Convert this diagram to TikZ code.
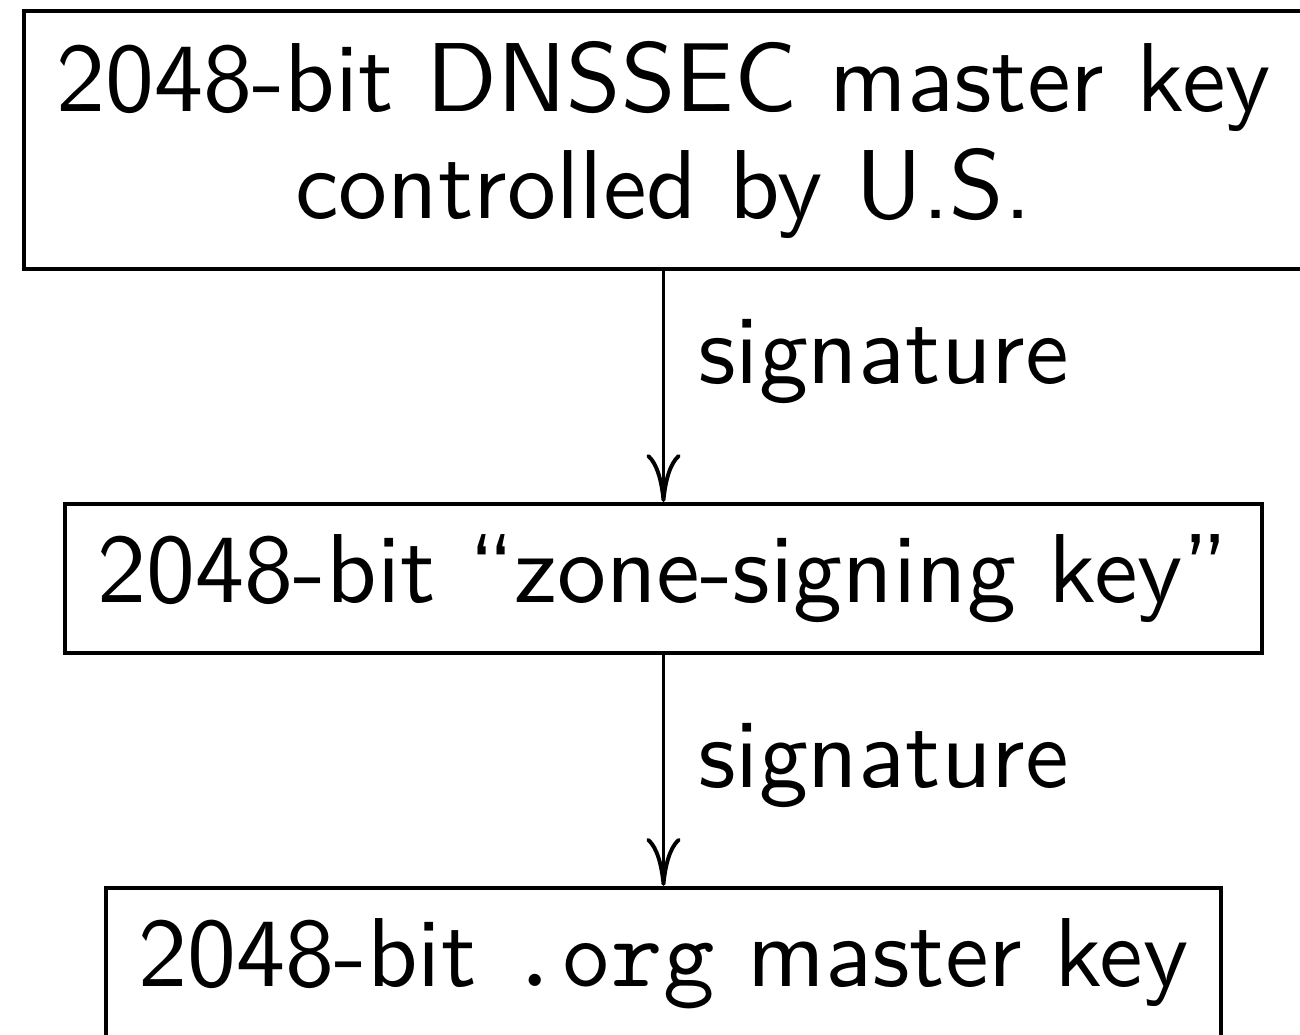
\documentclass[tikz,border=0pt]{standalone}
\usetikzlibrary{positioning,arrows.meta}
\tikzset{
  keybox/.style={draw, line width=0.4pt, inner xsep=0.3333em, inner ysep=3.1pt},
  sig/.style={right}
}
\begin{document}
\begin{tikzpicture}[>={Computer Modern Rightarrow[length=4.9pt,width=3.5pt]}, font=\sffamily, node distance=23.6pt, line width=0.4pt]
	\useasboundingbox (-67.75pt,14.3pt) rectangle (65.0pt,-91.3pt);
	\node[keybox, align=center] (master) at (0,0) {2048-bit DNSSEC master key\\[-1.1pt]controlled by U.S.};
	\node[keybox, below=of master] (zsk) {2048-bit ``zone-signing key''};
	\node[keybox, below=of zsk] (org) {2048-bit \texttt{.org} master key};
	\draw[->] (master) -- node[sig, pos=0.39]{signature} (zsk);
	\draw[->] (zsk) -- node[sig, pos=0.48]{signature} (org);
\end{tikzpicture}
\end{document}
